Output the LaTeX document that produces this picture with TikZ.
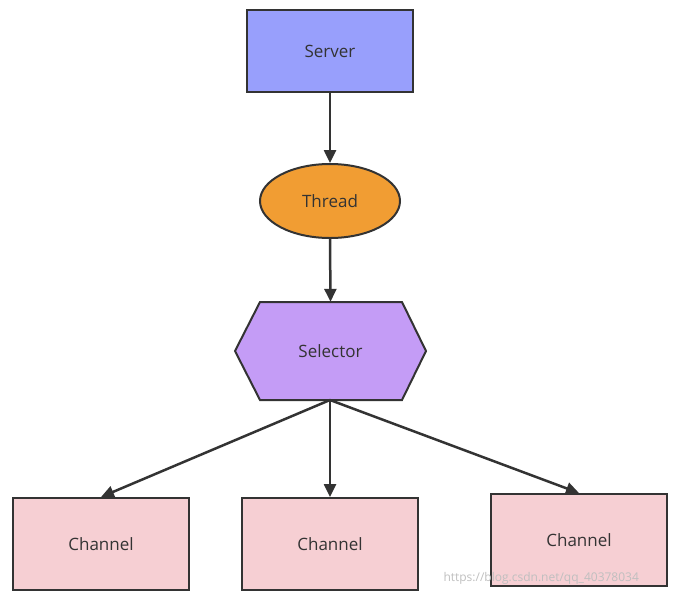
\documentclass[tikz,border=0pt]{standalone}
\usepackage{fontspec}
\setmainfont{Open Sans}
\usetikzlibrary{arrows.meta,shapes.geometric}
\definecolor{srv}{HTML}{989FFC}
\definecolor{thr}{HTML}{F19D33}
\definecolor{sel}{HTML}{C49CF6}
\definecolor{chn}{HTML}{F6CFD3}
\definecolor{ln}{HTML}{333333}
\begin{document}
\begin{tikzpicture}[x=1pt,y=-1pt,
  txt/.style={font=\fontsize{17pt}{19pt}\selectfont,text=ln},
  box/.style={draw=ln,line width=2pt,fill=chn,minimum width=176pt,minimum height=92pt,txt},
  arr/.style={draw=ln,line width=2.5pt,-{Triangle[length=13pt,width=12pt]}}]
\useasboundingbox (0,0) rectangle (681,600);
\node[box,fill=srv,minimum width=166pt,minimum height=82pt] (server) at (330,51) {Server};
\node[draw=ln,line width=2pt,fill=thr,ellipse,minimum width=140pt,minimum height=74pt,inner sep=0pt,txt] (thread) at (330,201) {Thread};
\draw[line width=2pt,draw=ln,fill=sel] (235,351) -- (260,302) -- (402,302) -- (426,351) -- (402,400) -- (260,400) -- cycle;
\node[txt,minimum width=191pt,minimum height=98pt] (sel) at (330.5,351) {Selector};
\node[box] (c1) at (101,544) {Channel};
\node[box] (c2) at (330,544) {Channel};
\node[box] (c3) at (579,540) {Channel};
\coordinate (s) at (330,400);
\draw[arr] (server.south) -- (thread.north);
\draw[arr] (thread.south) -- (sel.north);
\draw[arr] (s) -- (c1.north);
\draw[arr] (s) -- (c2.north);
\draw[arr] (s) -- (c3.north);
\node[anchor=west,text=black!25,font=\fontsize{12pt}{13pt}\selectfont] (wm) at (440,578) {https://blog.csdn.net/qq\_40378034};
\end{tikzpicture}
\end{document}
